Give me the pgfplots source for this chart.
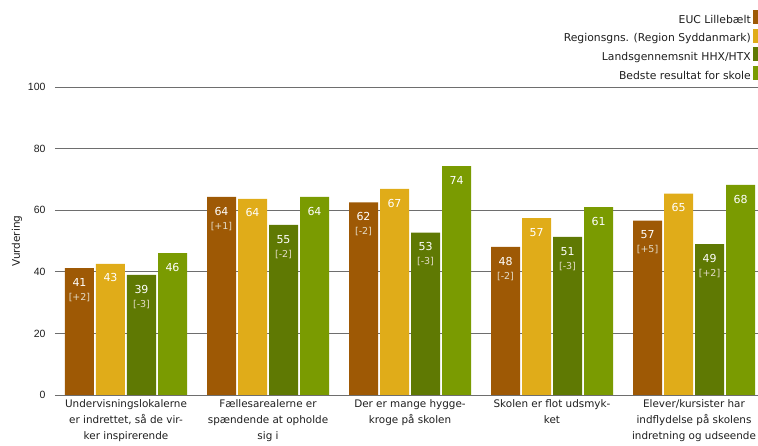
\documentclass[border=0pt]{standalone}
\usepackage{pgfplots}
\pgfplotsset{compat=1.18}
\usepackage{fontspec}
\setmainfont{DejaVu Sans}
\newfontfamily\tickfont{Liberation Sans}
\definecolor{cA}{RGB}{158,89,5}
\definecolor{cB}{RGB}{224,172,25}
\definecolor{cC}{RGB}{95,121,3}
\definecolor{cD}{RGB}{122,155,1}
\definecolor{brkc}{RGB}{228,220,200}
\definecolor{gridc}{RGB}{110,110,110}
\definecolor{txt}{RGB}{30,30,30}
\protected\def\brk#1{{\color{brkc}\fontsize{9.5}{11}\selectfont[#1]}}
\begin{document}
\begin{tikzpicture}
\begin{axis}[
  at={(55pt,51pt)}, anchor=south west,
  scale only axis, width=710pt, height=308pt,
  ybar=2pt, bar width=29pt,
  xmin=-0.5, xmax=4.5, ymin=0, ymax=100,
  enlarge x limits=false, enlarge y limits=false,
  axis line style={draw=none},
  major tick length=0pt,
  ytick={0,20,...,100},
  ymajorgrids, grid style={gridc, line width=0.8pt},
  xtick={0,1,2,3,4},
  xticklabels={
    {Undervisningslokalerne\\er indrettet, så de vir-\\ker inspirerende},
    {Fællesarealerne er\\spændende at opholde\\sig i},
    {Der er mange hygge-\\kroge på skolen},
    {Skolen er flot udsmyk-\\ket},
    {Elever/kursister har\\indflydelse på skolens\\indretning og udseende}},
  xticklabel style={align=center, font=\fontsize{10.4}{16}\selectfont, text=txt, yshift=-1.5pt},
  yticklabel style={font=\tickfont\fontsize{10.5}{12}\selectfont, text=txt, xshift=-6pt},
  /pgf/number format/assume math mode=true,
  ylabel={Vurdering},
  every axis y label/.style={at={(axis description cs:0,0.5)}, xshift=-38pt, rotate=90, anchor=center, font=\fontsize{10.5}{12}\selectfont, text=txt},
  point meta=explicit symbolic,
  nodes near coords,
  every node near coord/.append style={anchor=north, yshift=-6.5pt, align=center, text=white, font=\fontsize{11}{14}\selectfont},
  legend image code/.code={\fill[#1] (0pt,-4pt) rectangle (12pt,10pt);},
  legend plot pos=right,
  legend cell align=right,
  legend style={draw=none, fill=none, at={(axis description cs:1,1)}, anchor=south east, yshift=3.6pt, inner sep=0pt, row sep=2pt, nodes={inner ysep=2pt}, font=\fontsize{10.8}{12}\selectfont, text=txt},
]
\addplot[fill=cA, draw=none] coordinates {(0,41.2)[41\\\brk{+2}] (1,64.3)[64\\\brk{+1}] (2,62.5)[62\\\brk{-2}] (3,48.1)[48\\\brk{-2}] (4,56.6)[57\\\brk{+5}]};
\addplot[fill=cB, draw=none] coordinates {(0,42.6)[43] (1,63.7)[64] (2,66.9)[67] (3,57.4)[57] (4,65.4)[65]};
\addplot[fill=cC, draw=none] coordinates {(0,39.0)[39\\\brk{-3}] (1,55.2)[55\\\brk{-2}] (2,52.7)[53\\\brk{-3}] (3,51.3)[51\\\brk{-3}] (4,49.0)[49\\\brk{+2}]};
\addplot[fill=cD, draw=none] coordinates {(0,46.1)[46] (1,64.3)[64] (2,74.3)[74] (3,61.0)[61] (4,68.2)[68]};
\legend{EUC Lillebælt, Regionsgns. (Region Syddanmark), Landsgennemsnit HHX/HTX, Bedste resultat for skole}
\end{axis}
\pgfresetboundingbox
\useasboundingbox (0pt,0pt) rectangle (758pt,446pt);
\end{tikzpicture}
\end{document}
